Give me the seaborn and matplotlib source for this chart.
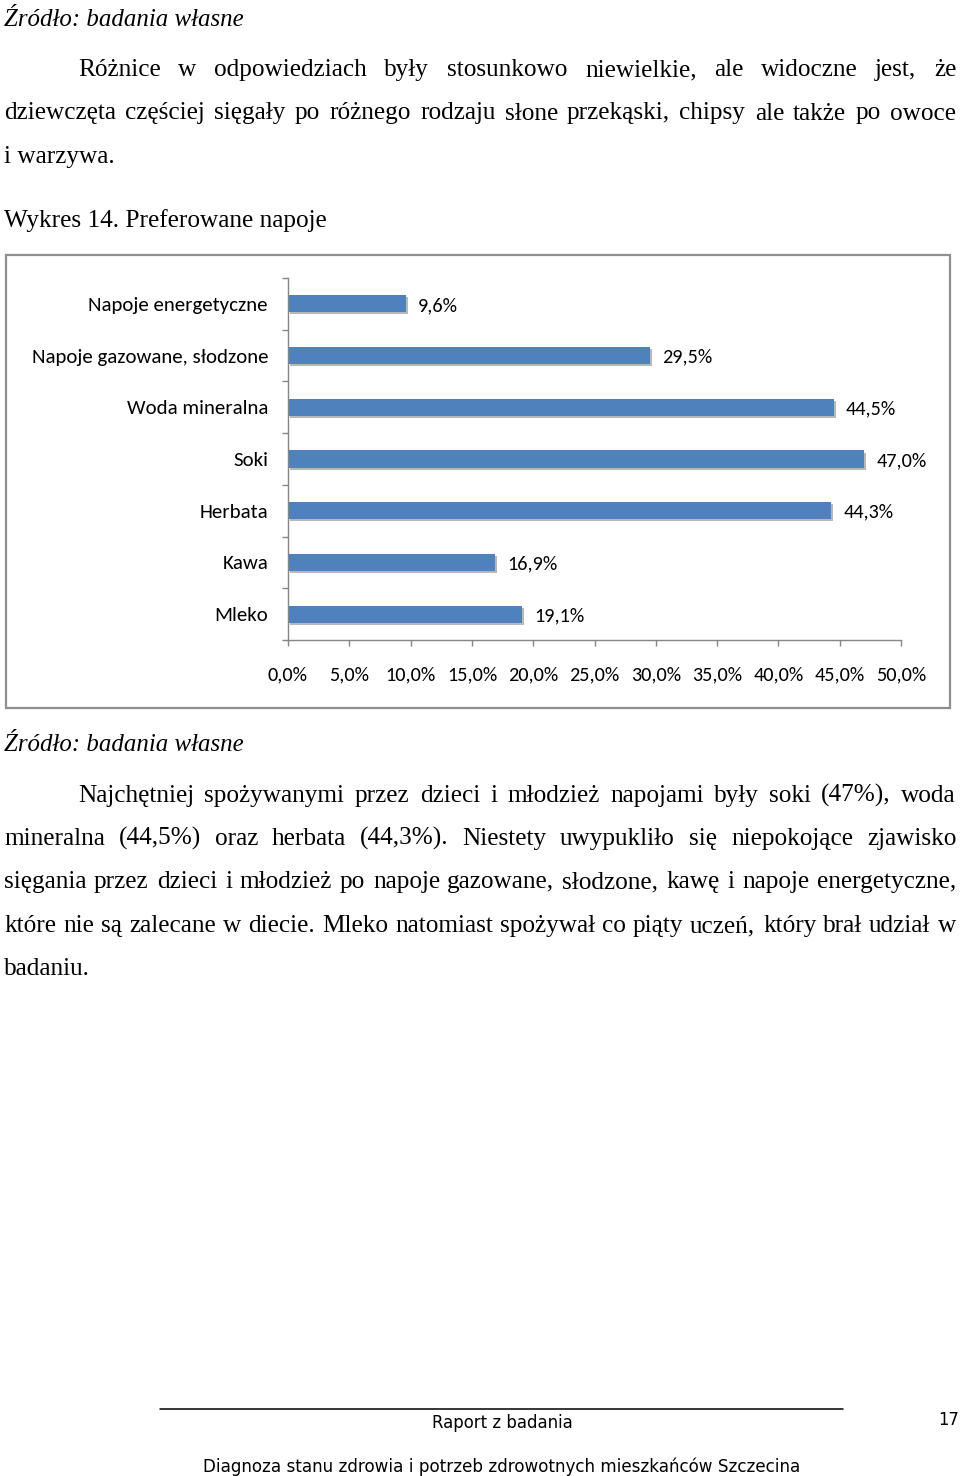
import matplotlib
matplotlib.use("Agg")
import matplotlib.pyplot as plt
import seaborn as sns
import pandas as pd
import matplotlib.patheffects as pe
from matplotlib.patches import Rectangle
from matplotlib.lines import Line2D
from matplotlib import font_manager as fm

# ---------------- data ----------------
categories = ["Napoje energetyczne", "Napoje gazowane, słodzone", "Woda mineralna",
              "Soki", "Herbata", "Kawa", "Mleko"]
values = [9.6, 29.5, 44.5, 47.0, 44.3, 16.9, 19.1]
value_labels = ["9,6%", "29,5%", "44,5%", "47,0%", "44,3%", "16,9%", "19,1%"]
x_ticks = [0, 5, 10, 15, 20, 25, 30, 35, 40, 45, 50]
x_tick_labels = ["0,0%", "5,0%", "10,0%", "15,0%", "20,0%", "25,0%", "30,0%",
                 "35,0%", "40,0%", "45,0%", "50,0%"]

source_text = "Źródło: badania własne"
para1 = [
    "Różnice w odpowiedziach były stosunkowo niewielkie, ale widoczne jest, że",
    "dziewczęta częściej sięgały po różnego rodzaju słone przekąski, chipsy ale także po owoce",
    "i warzywa.",
]
caption = "Wykres 14. Preferowane napoje"
para2 = [
    "Najchętniej spożywanymi przez dzieci i młodzież napojami były soki (47%), woda",
    "mineralna (44,5%) oraz herbata (44,3%). Niestety uwypukliło się niepokojące zjawisko",
    "sięgania przez dzieci i młodzież po napoje gazowane, słodzone, kawę i napoje energetyczne,",
    "które nie są zalecane w diecie. Mleko natomiast spożywał co piąty uczeń, który brał udział w",
    "badaniu.",
]
footer1 = "Raport z badania"
footer2 = "Diagnoza stanu zdrowia i potrzeb zdrowotnych mieszkańców Szczecina"
page_no = "17"

# ---------------- setup ----------------
W, H = 960, 1476
sns.set_theme(style="white")
plt.rcParams["font.family"] = ["DejaVu Sans"]
fig = plt.figure(figsize=(W / 100, H / 100), dpi=100)
fig.patch.set_facecolor("white")
renderer = fig.canvas.get_renderer()


def find(families, **kw):
    for f in families:
        try:
            return fm.findfont(fm.FontProperties(family=f, **kw), fallback_to_default=False)
        except Exception:
            continue
    return fm.findfont(fm.FontProperties(family="DejaVu Sans"))


SERIF_PATH = find(["Liberation Serif", "Tinos"])
SERIF_IT_PATH = find(["Liberation Serif", "Tinos"], style="italic")
SANS_PATH = find(["Carlito", "Lato"])
FOOT_PATH = find(["DejaVu Sans"])


def fp(path, size):
    return fm.FontProperties(fname=path, size=size)


def measure(s, path, size=10):
    t = fig.text(0, 0, s, fontproperties=fp(path, size))
    w = t.get_window_extent(renderer).width
    t.remove()
    return w


def fit(s, target, path):
    return 10 * target / measure(s, path, 10)


def put(x, yb, s, path, size, ha="left"):
    fig.text(x / W, 1 - yb / H, s, fontproperties=fp(path, size), ha=ha, va="baseline",
             color="black")


def justify(line, x0, x1, yb, path, size):
    words = line.split()
    widths = [measure(w, path, size) for w in words]
    gap = (x1 - x0 - sum(widths)) / (len(words) - 1)
    x = x0
    for w, wd in zip(words, widths):
        put(round(x), yb, w, path, size)
        x += wd + gap


body_size = fit(caption, 322, SERIF_PATH)
src_size = fit(source_text, 241, SERIF_IT_PATH)

# ---------------- page text ----------------
put(4, 26, source_text, SERIF_IT_PATH, src_size)
justify(para1[0], 78, 956, 76, SERIF_PATH, body_size)
justify(para1[1], 4, 956, 119.5, SERIF_PATH, body_size)
put(4, 163, para1[2], SERIF_PATH, body_size)
put(4, 227, caption, SERIF_PATH, body_size)

put(4, 751, source_text, SERIF_IT_PATH, src_size)
justify(para2[0], 78, 956, 802, SERIF_PATH, body_size)
justify(para2[1], 4, 956, 845, SERIF_PATH, body_size)
justify(para2[2], 4, 956, 888, SERIF_PATH, body_size)
justify(para2[3], 4, 956, 932, SERIF_PATH, body_size)
put(4, 975, para2[4], SERIF_PATH, body_size)

# footer
fig.add_artist(Line2D([160 / W, 843 / W], [1 - 1409 / H] * 2, color="black", lw=1.1,
                      transform=fig.transFigure))
f1 = fit(footer1, 142, FOOT_PATH)
f2 = fit(footer2, 598, FOOT_PATH)
put(502, 1428, footer1, FOOT_PATH, f1, ha="center")
put(502, 1472, footer2, FOOT_PATH, f2, ha="center")
put(959, 1425, page_no, FOOT_PATH, f1, ha="right")

# chart frame
fig.add_artist(Rectangle((6 / W, 1 - 708 / H), 944 / W, 453 / H, transform=fig.transFigure,
                         fill=False, edgecolor="#8f8f8f", lw=1.6))

# ---------------- chart ----------------
cat_size = fit("Napoje gazowane, słodzone", 237, SANS_PATH)
tick_size = fit("10,0%", 51, SANS_PATH)

ax = fig.add_axes([288 / W, 1 - 640 / H, (901 - 288) / W, (640 - 278) / H])
df = pd.DataFrame({"cat": categories, "val": values})
sns.barplot(data=df, x="val", y="cat", orient="h", color="#4F81BD", saturation=1,
            width=0.33, ax=ax, errorbar=None)
for p in ax.patches:
    p.set_edgecolor("none")
    p.set_path_effects([pe.SimplePatchShadow(offset=(1.5, -1.5), shadow_rgbFace="#9a9a9a",
                                             alpha=0.7), pe.Normal()])

ax.set_xlim(0, 50)
ax.set_ylim(6.5, -0.5)
ax.set_xlabel("")
ax.set_ylabel("")
ax.set_facecolor("white")
ax.grid(False)
for s in ["top", "right"]:
    ax.spines[s].set_visible(False)
for s in ["left", "bottom"]:
    ax.spines[s].set_color("#868686")
    ax.spines[s].set_linewidth(1.0)

ax.set_xticks(x_ticks)
ax.set_xticklabels(x_tick_labels, fontproperties=fp(SANS_PATH, tick_size), color="black")
ax.set_yticks(range(len(categories)))
ax.set_yticklabels(categories, fontproperties=fp(SANS_PATH, cat_size), color="black")
ax.set_yticks([i - 0.5 for i in range(len(categories) + 1)], minor=True)
ax.tick_params(axis="x", which="major", bottom=True, direction="out", length=4.5, width=1,
               color="#868686", pad=14.5)
ax.tick_params(axis="y", which="major", left=True, length=0, pad=14.4)
ax.tick_params(axis="y", which="minor", left=True, direction="out", length=4.5, width=1,
               color="#868686")

for i, (v, lab) in enumerate(zip(values, value_labels)):
    ax.text(v + 1.0, i + 0.03, lab, ha="left", va="center",
            fontproperties=fp(SANS_PATH, tick_size), color="black")

fig.savefig("out.png", dpi=100, facecolor="white")
